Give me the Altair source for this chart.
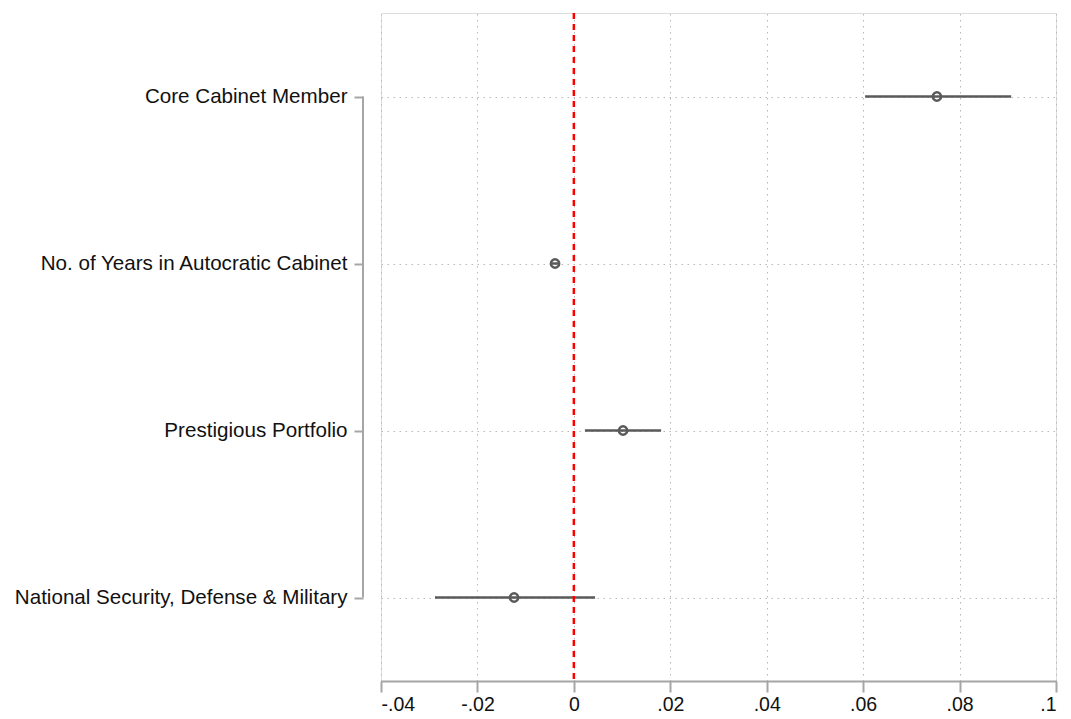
import json
import altair as alt
import pandas as pd

categories = [
    "Core Cabinet Member",
    "No. of Years in Autocratic Cabinet",
    "Prestigious Portfolio",
    "National Security, Defense & Military",
]
estimates = [0.0753, -0.0039, 0.0102, -0.0124]
ci_low = [0.0604, -0.0046, 0.0023, -0.0288]
ci_high = [0.0907, -0.0032, 0.0181, 0.0044]
x_ticks = [-0.04, -0.02, 0.0, 0.02, 0.04, 0.06, 0.08, 0.1]

df = pd.DataFrame({
    "idx": list(range(1, len(categories) + 1)),
    "category": categories,
    "est": estimates,
    "lo": ci_low,
    "hi": ci_high,
})

FONT = "Liberation Sans"
label_array = json.dumps(categories)

x_scale = alt.Scale(domain=[-0.04, 0.1], nice=False, zero=False)
y_scale = alt.Scale(domain=[0.5, 4.5], reverse=True, nice=False, zero=False)

x_axis = alt.Axis(
    values=x_ticks,
    title=None,
    grid=True,
    gridColor="#b8b8b8",
    gridDash=[1.5, 4.5],
    gridWidth=1,
    domainColor="#a6a6a6",
    domainWidth=2,
    tickColor="#a6a6a6",
    tickWidth=2,
    tickSize=11,
    labelPadding=3,
    labelFont=FONT,
    labelFontSize=19.5,
    labelColor="#111111",
    labelExpr="(datum.value < -1e-9 ? '-' : '') + replace(format(abs(datum.value), '.2~f'), '0.', '.')",
)
y_axis = alt.Axis(
    values=[1, 2, 3, 4],
    title=None,
    grid=True,
    gridColor="#b8b8b8",
    gridDash=[1.5, 4.5],
    gridWidth=1,
    domain=False,
    offset=18,
    tickColor="#a6a6a6",
    tickWidth=2,
    tickSize=9,
    labelPadding=7,
    labelLimit=400,
    labelFont=FONT,
    labelFontSize=20.6,
    labelColor="#111111",
    labelExpr=label_array + "[datum.value - 1]",
)

base = alt.Chart(df)

ci = base.mark_rule(color="#5a5a5a", strokeWidth=2.5).encode(
    x=alt.X("lo:Q", scale=x_scale, axis=x_axis),
    x2="hi:Q",
    y=alt.Y("idx:Q", scale=y_scale, axis=y_axis),
)

pts = base.mark_point(shape="circle", filled=False, size=70, strokeWidth=2.4, color="#5a5a5a", opacity=1).encode(
    x=alt.X("est:Q", scale=x_scale),
    y=alt.Y("idx:Q", scale=y_scale),
)

zero = alt.Chart(pd.DataFrame({"z": [0.0]})).mark_rule(
    color="#ff0000", strokeWidth=2.5, strokeDash=[6, 5]
).encode(x=alt.X("z:Q", scale=x_scale))

yline = alt.Chart(pd.DataFrame({"a": [1], "b": [4]})).mark_rule(
    color="#a6a6a6", strokeWidth=2
).encode(
    x=alt.value(-18),
    y=alt.Y("a:Q", scale=y_scale),
    y2="b:Q",
)

chart = alt.layer(ci, zero, pts, yline).properties(
    width=675,
    height=668,
    autosize=alt.AutoSizeParams(type="none"),
    padding={"left": 373, "top": 5, "right": 5, "bottom": 37},
).configure_view(stroke=None).configure(background="white")

chart.save("out.html", embed_options={"renderer": "svg", "actions": False})
